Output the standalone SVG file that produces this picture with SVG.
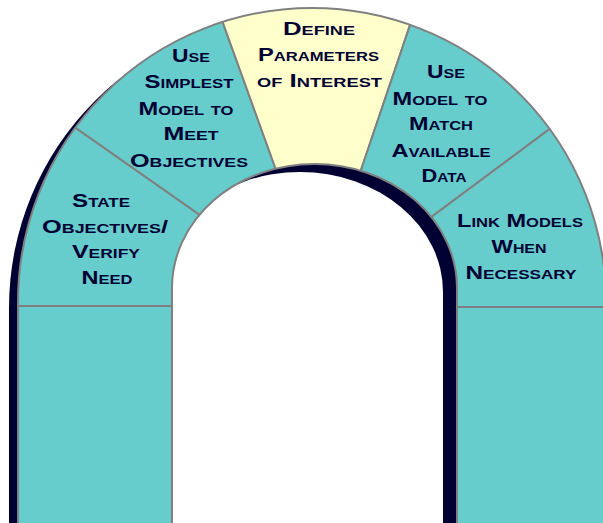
<svg xmlns="http://www.w3.org/2000/svg" width="603" height="523" viewBox="0 0 603 523">
<defs>
<style>
.teal{fill:#66CCCC}
.yel{fill:#FFFFCC}
.seg{stroke:#808080;stroke-width:2}
.lbl{font-family:"Liberation Sans",Arial,sans-serif;font-weight:bold;font-size:18.5px;font-variant:small-caps;fill:#000033;text-anchor:middle}
.line{fill:none;stroke:#808080;stroke-width:2}
</style>
<clipPath id="arch"><path clip-rule="evenodd" d="M18,530 L18,302 A294,294 0 0 1 606,302 L606,530 Z M172,530 L172,288 A142.5,124 0 0 1 457,288 L457,530 Z"/></clipPath>
<clipPath id="hole"><path d="M172,530 L172,288 A142.5,124 0 0 1 457,288 L457,530 Z"/></clipPath>
</defs>
<rect width="603" height="523" fill="#ffffff"/>
<path id="outer-shadow" d="M9,530 L9,308 A293,293 0 0 1 595,308 L595,530 Z" fill="#000033"/>
<g id="pillar-left"><rect class="teal" x="18" y="306" width="154" height="224"/></g>
<g id="pillar-right"><rect class="teal" x="457" y="307" width="149" height="223"/></g>
<g id="state-objectives">
<polygon class="teal seg" clip-path="url(#arch)" points="-48,41 237,241 237,306 -48,306"/>
<text class="lbl" x="101" y="207" textLength="58" lengthAdjust="spacingAndGlyphs">State</text>
<text class="lbl" x="105" y="233" textLength="126" lengthAdjust="spacingAndGlyphs">Objectives/</text>
<text class="lbl" x="106" y="258" textLength="68" lengthAdjust="spacingAndGlyphs">Verify</text>
<text class="lbl" x="107" y="284" textLength="51" lengthAdjust="spacingAndGlyphs">Need</text>
</g>
<g id="simplest-model">
<polygon class="teal seg" clip-path="url(#arch)" points="-48,41 -48,-20 207.4,-20.2 301,239 237,241"/>
<text class="lbl" x="191" y="62" textLength="38" lengthAdjust="spacingAndGlyphs">Use</text>
<text class="lbl" x="189" y="88" textLength="89" lengthAdjust="spacingAndGlyphs">Simplest</text>
<text class="lbl" x="186" y="115" textLength="95" lengthAdjust="spacingAndGlyphs">Model to</text>
<text class="lbl" x="191" y="140" textLength="55" lengthAdjust="spacingAndGlyphs">Meet</text>
<text class="lbl" x="189" y="167" textLength="118" lengthAdjust="spacingAndGlyphs">Objectives</text>
</g>
<g id="define-parameters">
<polygon class="yel seg" clip-path="url(#arch)" points="207.4,-20.2 425.4,-20.4 338,238 301,239"/>
<text class="lbl" x="319" y="35" textLength="72" lengthAdjust="spacingAndGlyphs">Define</text>
<text class="lbl" x="318.5" y="61" textLength="121" lengthAdjust="spacingAndGlyphs">Parameters</text>
<text class="lbl" x="319.5" y="87" textLength="125" lengthAdjust="spacingAndGlyphs">of Interest</text>
</g>
<g id="match-data">
<polygon class="teal seg" clip-path="url(#arch)" points="425.4,-20.4 672,-20 672,38 393.7,245 338,238"/>
<text class="lbl" x="446" y="78" textLength="38" lengthAdjust="spacingAndGlyphs">Use</text>
<text class="lbl" x="440" y="105" textLength="95" lengthAdjust="spacingAndGlyphs">Model to</text>
<text class="lbl" x="441" y="130" textLength="64" lengthAdjust="spacingAndGlyphs">Match</text>
<text class="lbl" x="441" y="157" textLength="99" lengthAdjust="spacingAndGlyphs">Available</text>
<text class="lbl" x="444" y="182" textLength="45" lengthAdjust="spacingAndGlyphs">Data</text>
</g>
<g id="link-models">
<polygon class="teal seg" clip-path="url(#arch)" points="672,38 393.7,245 393.7,307 672,307"/>
<text class="lbl" x="520" y="227" textLength="126" lengthAdjust="spacingAndGlyphs">Link Models</text>
<text class="lbl" x="519" y="253" textLength="55" lengthAdjust="spacingAndGlyphs">When</text>
<text class="lbl" x="521" y="279" textLength="111" lengthAdjust="spacingAndGlyphs">Necessary</text>
</g>
<g id="opening">
<path d="M172,530 L172,288 A142.5,124 0 0 1 457,288 L457,530 Z" fill="#000033"/>
<path d="M157,530 L157,292 A143,120 0 0 1 443,292 L443,530 Z" fill="#ffffff" clip-path="url(#hole)"/>
<path class="line" d="M172,530 L172,288 A142.5,124 0 0 1 457,288 L457,530"/>
</g>
<path id="outline" class="line" d="M18,530 L18,302 A294,294 0 0 1 606,302 L606,530"/>
</svg>
